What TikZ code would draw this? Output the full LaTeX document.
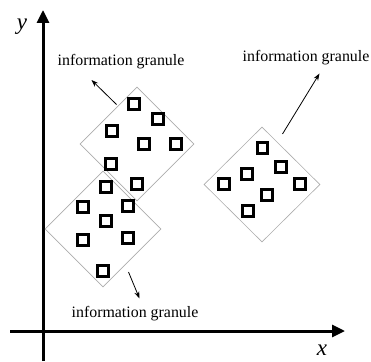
\documentclass[tikz,border=0pt]{standalone}
\usepackage{fontspec}
\setmainfont{Liberation Serif}
\usetikzlibrary{shapes.geometric,arrows.meta}
\tikzset{
  axisline/.style={line width=3pt,-{Triangle[length=13pt,width=12pt]}},
  granule/.style={draw=gray!65,line width=0.6pt,shape=diamond,aspect=1,inner sep=0pt},
  pt/.style={draw=black,fill=white,line width=2.8pt,minimum size=10.5pt,inner sep=0pt,shape=rectangle},
  lbl/.style={font=\fontsize{15.9}{18}\selectfont,inner sep=0pt},
  axlbl/.style={font=\fontsize{23}{25}\selectfont\itshape,inner sep=0pt,anchor=base},
  pointer/.style={line width=0.8pt,-{Stealth[length=7pt,width=5pt]}}
}
\begin{document}
\begin{tikzpicture}[x=1pt,y=-1pt]
\useasboundingbox (0,0) rectangle (371,361);
% axes
\coordinate (xs) at (10,331);
\coordinate (xe) at (345,331);
\coordinate (ys) at (43,361);
\coordinate (ye) at (43,10);
\draw[axisline] (xs) -- (xe);
\draw[axisline] (ys) -- (ye);
\node[axlbl] (xl) at (322,355) {x};
\node[axlbl] (yl) at (22,30) {y};

% three granules
\node[granule,minimum width=114pt,minimum height=114pt] (g1) at (137,144) {};
\node[granule,minimum width=116pt,minimum height=116pt] (g2) at (103,229) {};
\node[granule,minimum width=116pt,minimum height=115pt] (g3) at (262,184.5) {};

% data points of the upper granule
\foreach \p/\q [count=\i] in {134/104,158/119,112/131,144/144,176/144,111/164,137/184}
  \node[pt] (a\i) at (\p,\q) {};
% data points of the lower granule
\foreach \p/\q [count=\i] in {106/187,83/207,128/206,106/221,83/240,128/238,103/271}
  \node[pt] (b\i) at (\p,\q) {};
% data points of the right granule
\foreach \p/\q [count=\i] in {262.5/148,281/167,247/174,224/184,300/184,267/195,248/211}
  \node[pt] (c\i) at (\p,\q) {};

% labels and pointers
\node[lbl] (l1) at (121,62) {information granule};
\node[lbl] (l2) at (306,58) {information granule};
\node[lbl] (l3) at (135,314) {information granule};
\coordinate (p1s) at (116.5,104.5);
\coordinate (p1e) at (91.5,80);
\coordinate (p2s) at (282.5,134);
\coordinate (p2e) at (319.5,73.5);
\coordinate (p3s) at (128.5,272);
\coordinate (p3e) at (139.5,298.5);
\draw[pointer] (p1s) -- (p1e);
\draw[pointer] (p2s) -- (p2e);
\draw[pointer] (p3s) -- (p3e);
\end{tikzpicture}
\end{document}
